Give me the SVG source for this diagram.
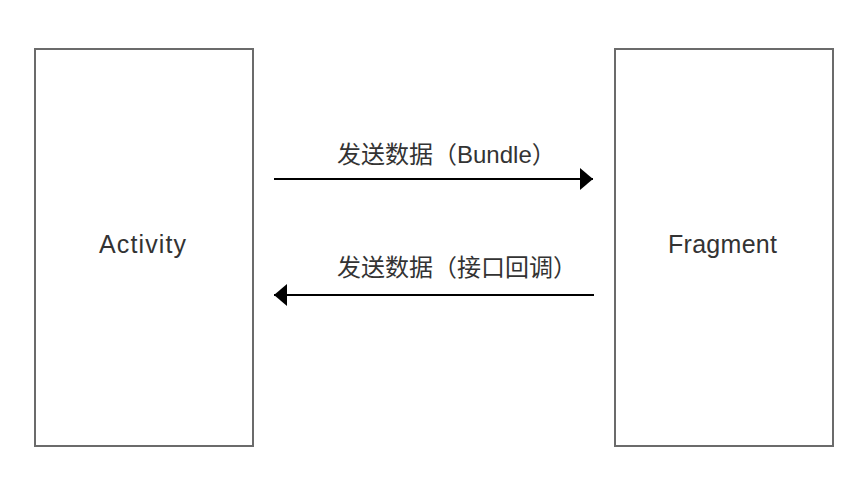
<svg xmlns="http://www.w3.org/2000/svg" width="866" height="490" viewBox="0 0 866 490">
  <defs>
    <style>
      .box { fill: #ffffff; stroke: #6b6b6b; stroke-width: 2; }
      .lbl { font-family: "Liberation Sans", "Noto Sans CJK SC", sans-serif; font-size: 24px; fill: #333333; }
      .name { font-size: 25px; }
      .edge { stroke: #000000; stroke-width: 2; fill: none; }
    </style>
    <marker id="arrow" viewBox="0 0 13 22" refX="13" refY="11" markerWidth="13" markerHeight="22" markerUnits="userSpaceOnUse" orient="auto">
      <path d="M0,0 L13,11 L0,22 Z" fill="#000000"/>
    </marker>
  </defs>
  <rect width="866" height="490" fill="#ffffff"/>
  <g id="activity">
    <rect class="box" x="35" y="49" width="218" height="397"/>
    <text class="lbl name" x="99" y="253" textLength="87" lengthAdjust="spacing">Activity</text>
  </g>
  <g id="fragment">
    <rect class="box" x="615" y="49" width="218" height="397"/>
    <text class="lbl name" x="668" y="253" textLength="109" lengthAdjust="spacing">Fragment</text>
  </g>
  <g id="connectors">
    <line class="edge" x1="274" y1="179" x2="593" y2="179" marker-end="url(#arrow)"/>
    <line class="edge" x1="594" y1="295" x2="274" y2="295" marker-end="url(#arrow)"/>
    <text class="lbl" x="337" y="163">发送数据（Bundle）</text>
    <text class="lbl" x="337" y="276">发送数据（接口回调）</text>
  </g>
</svg>
